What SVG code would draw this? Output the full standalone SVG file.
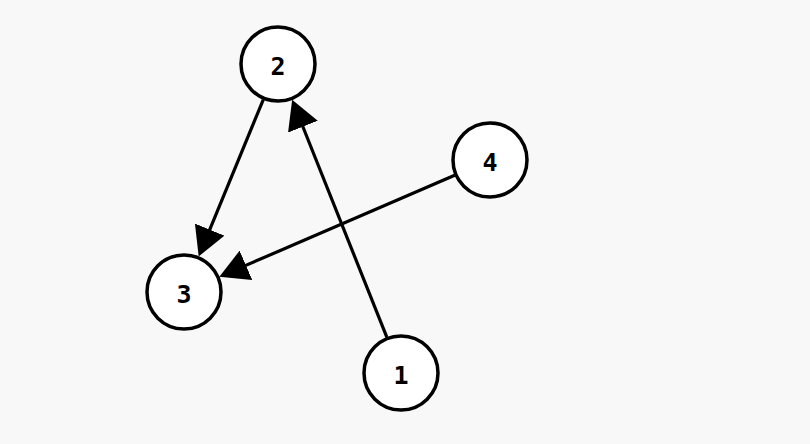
<svg xmlns="http://www.w3.org/2000/svg" width="810" height="444" viewBox="0 0 810 444">
<style>
.node circle{fill:#ffffff;stroke:#000000;stroke-width:3.5}
.node text{font-family:"DejaVu Sans Mono",monospace;font-weight:bold;font-size:25px;fill:#000000;text-anchor:middle;dominant-baseline:central}
.edge{stroke:#000000;stroke-width:3.2;fill:none;marker-end:url(#arrow)}
</style>
<defs>
<marker id="arrow" markerUnits="userSpaceOnUse" markerWidth="30" markerHeight="32" refX="4" refY="16" orient="auto">
<path d="M0,0 L29,16 L0,32 z" fill="#000000"/>
</marker>
</defs>
<rect width="810" height="444" fill="#f8f8f8"/>
<g id="connectors">
<line class="edge" x1="386.8" y1="337.2" x2="301.4" y2="123.0"/>
<line class="edge" x1="263.3" y1="99.6" x2="208.2" y2="233.3"/>
<line class="edge" x1="454.7" y1="175.2" x2="242.3" y2="266.9"/>
</g>
<g id="node2" class="node"><circle cx="278" cy="64" r="37"/><text x="278" y="66">2</text></g>
<g id="node3" class="node"><circle cx="184" cy="292" r="37"/><text x="184" y="294">3</text></g>
<g id="node4" class="node"><circle cx="490" cy="160" r="37"/><text x="490" y="162">4</text></g>
<g id="node1" class="node"><circle cx="401" cy="373" r="37"/><text x="401" y="375">1</text></g>
</svg>
